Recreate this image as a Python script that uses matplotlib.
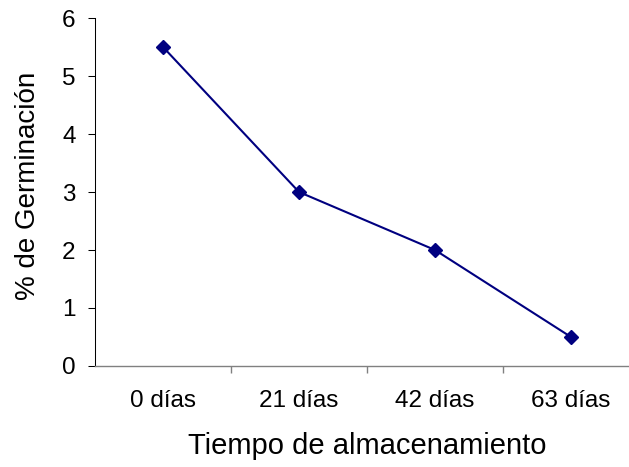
import matplotlib
matplotlib.use("Agg")
import matplotlib.pyplot as plt

# storage time vs germination
categories = ["0 días", "21 días", "42 días", "63 días"]
germination = [5.5, 3.0, 2.0, 0.5]

plt.rcParams['font.family'] = ['Liberation Sans', 'DejaVu Sans']

fig = plt.figure(figsize=(6.29, 4.67), dpi=100)
# right edge runs past the figure, so the last category box is cut off
ax = fig.add_axes([95 / 629, 1 - 366 / 467, 544 / 629, 348 / 467])

x = range(len(categories))
ax.plot(x, germination, color="#000080", linewidth=1.5, marker="D",
        markersize=7, markerfacecolor="#000080", markeredgecolor="#000080",
        clip_on=False)

ax.set_xlim(-0.5, len(categories) - 0.5)
ax.set_ylim(0, 6)
ax.set_yticks(range(0, 7))
# category boundaries get the ticks, names sit in between
ax.set_xticks([i + 0.5 for i in range(len(categories) - 1)])
ax.set_xticklabels([])
ax.set_xticks(list(x), minor=True)
ax.set_xticklabels(categories, minor=True)

ax.tick_params(axis="y", direction="out", length=5, width=0.75, labelsize=17.5, pad=9)
ax.tick_params(axis="x", which="major", direction="out", length=5, width=1,
               color="#808080")
ax.tick_params(axis="x", which="minor", length=0, labelsize=17.5, pad=17.5)

for side in ["top", "right"]:
    ax.spines[side].set_visible(False)
ax.spines["left"].set_color("black")
ax.spines["left"].set_linewidth(0.75)
ax.spines["bottom"].set_color("#808080")
ax.spines["bottom"].set_linewidth(1.0)

ax.set_ylabel("% de Germinación", fontsize=20)
ax.set_xlabel("Tiempo de almacenamiento", fontsize=21)
ax.xaxis.set_label_coords(0.5, -(432 - 366) / 348)
ax.yaxis.set_label_coords((41 - 95) / 544, (366 - 185.5) / 348)

fig.savefig("out.png", dpi=100)
